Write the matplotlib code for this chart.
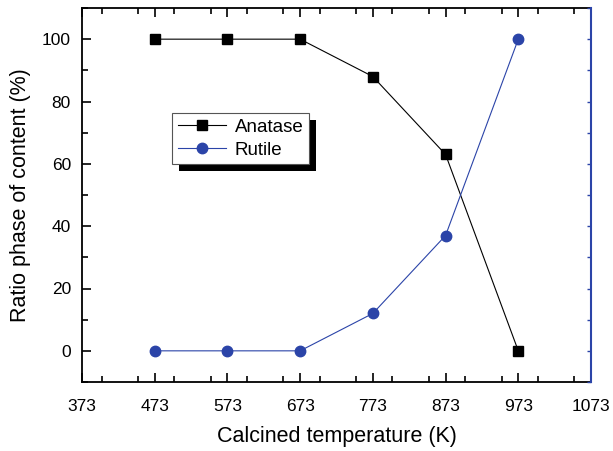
import matplotlib
matplotlib.use("Agg")
import matplotlib.pyplot as plt
from matplotlib.ticker import MultipleLocator
from matplotlib.patches import Rectangle

temps = [473, 573, 673, 773, 873, 973]
anatase = [100, 100, 100, 88, 63, 0]
rutile = [0, 0, 0, 12, 37, 100]
xticks = [373, 473, 573, 673, 773, 873, 973, 1073]
yticks = [0, 20, 40, 60, 80, 100]

plt.rcParams['font.family'] = ['Liberation Sans', 'DejaVu Sans']
fig = plt.figure(figsize=(6.13, 4.51), dpi=100)
ax = fig.add_axes([82/613, (451-382)/451, (591-82)/613, (382-8)/451])

blue = '#2b44a8'
l1, = ax.plot(temps, anatase, color='black', lw=0.8, marker='s', ms=6.5, label='Anatase')
l2, = ax.plot(temps, rutile, color=blue, lw=0.8, marker='o', ms=7.5, label='Rutile')

ax.set_xlim(373, 1073)
ax.set_ylim(-10, 110)
ax.set_xticks(xticks)
ax.set_yticks(yticks)
ax.xaxis.set_minor_locator(MultipleLocator(50))
ax.yaxis.set_minor_locator(MultipleLocator(10))
ax.tick_params(which='both', direction='in', top=True, right=False, labelsize=12.5, width=1.2)
ax.tick_params(which='major', length=6.5)
ax.tick_params(which='minor', length=4)
ax.tick_params(axis='x', which='major', pad=12)
ax.tick_params(axis='y', which='major', pad=8)

ax2 = ax.twinx()
ax2.set_ylim(-10, 110)
ax2.set_yticks(yticks)
ax2.yaxis.set_minor_locator(MultipleLocator(10))
ax2.tick_params(which='both', direction='in', length=3, color=blue, labelright=False, width=1)
ax2.spines['right'].set_color(blue)
ax2.spines['right'].set_linewidth(1.5)
for s in ['left', 'top', 'bottom']:
    ax2.spines[s].set_visible(False)

for s in ['left', 'bottom', 'top']:
    ax.spines[s].set_linewidth(1.3)
ax.spines['right'].set_visible(False)

ax.set_xlabel('Calcined temperature (K)', fontsize=15.5, labelpad=9)
ax.set_ylabel('Ratio phase of content (%)', fontsize=15.5, labelpad=8)

leg = ax2.legend([l1, l2], ['Anatase', 'Rutile'], loc='upper left',
                 bbox_to_anchor=((172-82)/509, (382-113)/374),
                 fontsize=13.5, frameon=True, fancybox=False, shadow=False,
                 edgecolor='#555555', handlelength=2.6, borderpad=0.3, labelspacing=0.3,
                 handletextpad=0.45, borderaxespad=0, framealpha=1)
leg.get_frame().set_linewidth(0.8)
leg.set_zorder(5)

fig.canvas.draw()
bb = leg.get_window_extent()
shadow = Rectangle((bb.x0 + 7, bb.y0 - 7), bb.width, bb.height, transform=None,
                   facecolor='black', edgecolor='none', zorder=4.9, clip_on=False)
ax2.add_artist(shadow)

fig.savefig('out.png', dpi=100)
